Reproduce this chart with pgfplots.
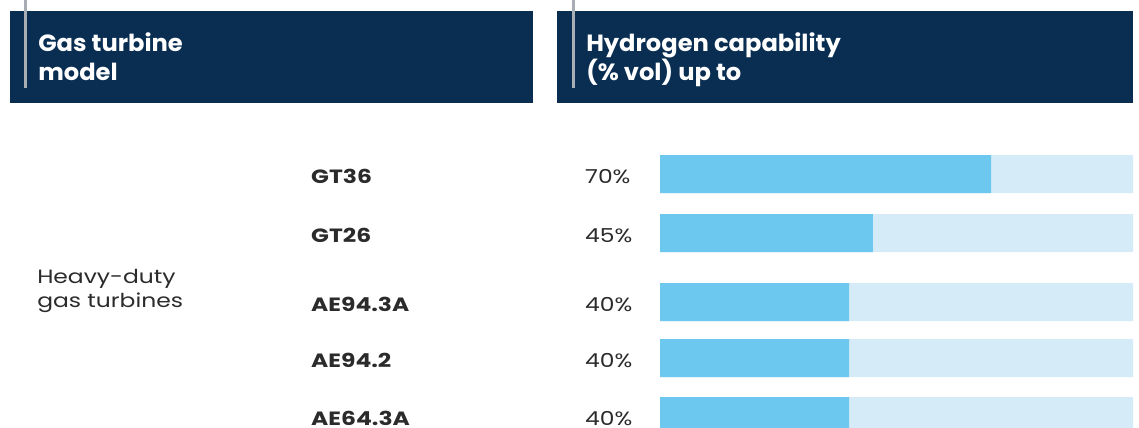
\documentclass[border=0pt]{standalone}
\usepackage{fontspec}
\setmainfont{Poppins}
\newfontfamily\bodyfont[FakeStretch=1.22]{Poppins}
\newfontfamily\hdrfont[FakeStretch=1.03]{Poppins}
\usepackage{pgfplots}
\pgfplotsset{compat=1.18}
\definecolor{navy}{HTML}{0A2E52}
\definecolor{barfg}{HTML}{6DC8F0}
\definecolor{barbg}{HTML}{D5EBF8}
\definecolor{txt}{HTML}{2B2B2B}
\definecolor{rulegray}{HTML}{A9AEB4}
\begin{document}
\begin{tikzpicture}
\begin{scope}[x=0.75pt,y=-0.75pt]
\useasboundingbox (0,0) rectangle (1139,428);
\fill[navy] (10,11) rectangle (533,103);
\fill[navy] (557,11) rectangle (1133,103);
\draw[rulegray, line width=2.25pt] (25,0) -- (25,88);
\draw[rulegray, line width=2.25pt] (573,0) -- (573,88);
\tikzset{hdr/.style={anchor=base west, white, inner sep=0pt, font=\hdrfont\bfseries\fontsize{17.6}{21}\selectfont}}
\node[hdr] at (38,52) {Gas turbine};
\node[hdr] at (38,81) {model};
\node[hdr] at (586,52) {Hydrogen capability};
\node[hdr] at (586,81) {(\% vol) up to};
\node[anchor=base west, txt, inner sep=0pt, font=\bodyfont\fontsize{14.4}{18}\selectfont] at (37,283) {Heavy-duty};
\node[anchor=base west, txt, inner sep=0pt, font=\bodyfont\fontsize{14.4}{18}\selectfont] at (37,307) {gas turbines};
\end{scope}
\begin{axis}[
  at={(495pt,0pt)}, anchor=north west,
  width=354.75pt, height=321pt, scale only axis,
  xmin=0, xmax=100, ymin=0, ymax=428, y dir=reverse,
  hide axis, xbar, bar shift=0pt, bar width=38,
  clip mode=individual,
]
\addplot[fill=barbg, draw=none] coordinates {(100,174) (100,233) (100,302) (100,358) (100,416)};
\addplot[fill=barfg, draw=none] coordinates {(70,174) (45,233) (40,302) (40,358) (40,416)};
\foreach \yy/\nm/\pc in {174/GT36/70,233/GT26/45,302/AE94.3A/40,358/AE94.2/40,416/AE64.3A/40}{
  \edef\tmp{\noexpand\node[anchor=base west, txt, inner sep=0pt, font=\noexpand\bodyfont\noexpand\bfseries\noexpand\fontsize{14.4}{18}\noexpand\selectfont] at (axis cs:-73.8,\yy+9) {\nm};
  \noexpand\node[anchor=base west, txt, inner sep=0pt, font=\noexpand\bodyfont\noexpand\fontsize{14.4}{18}\noexpand\selectfont] at (axis cs:-15.86,\yy+9) {\pc\noexpand\%};}
  \tmp
}
\end{axis}
\end{tikzpicture}
\end{document}
